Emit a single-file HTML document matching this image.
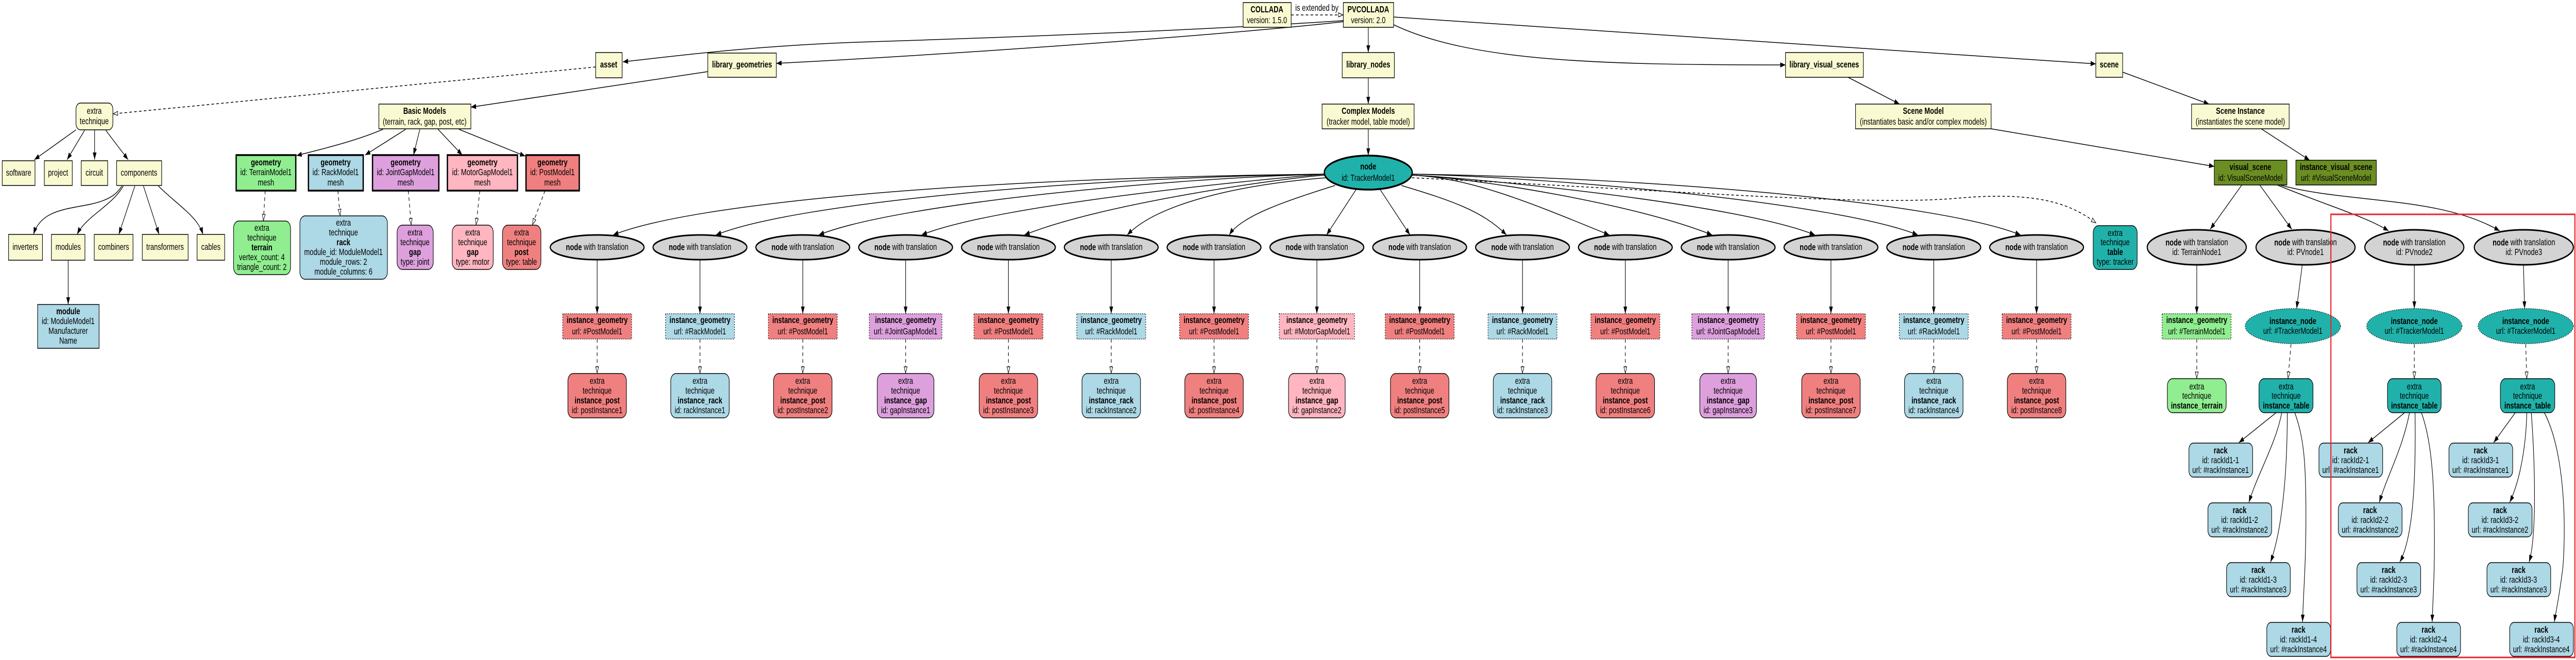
<!DOCTYPE html>
<html><head><meta charset="utf-8"><style>
html,body{margin:0;padding:0;background:#fff;width:100%;height:100%;overflow:hidden;}
svg{display:block;width:100vw;height:100vh;}
text{font-family:"Liberation Sans",sans-serif;font-size:18px;text-anchor:middle;dominant-baseline:central;fill:#000;}
.b{font-weight:bold;}
.e{fill:none;stroke:#000;stroke-width:1.5;}
.d{fill:none;stroke:#000;stroke-width:1.5;stroke-dasharray:7,6;}
.y{fill:#fafad2;stroke:#000;stroke-width:1.5;}
.gr{fill:#d3d3d3;stroke:#000;stroke-width:3;}
.dot{stroke:#000;stroke-width:1.5;stroke-dasharray:2,3;}
.rd{fill:#f08080;}.bl{fill:#add8e6;}.pu{fill:#dda0dd;}.pk{fill:#ffb6c1;}.gn{fill:#90ee90;}.tl{fill:#20b2aa;}.ol{fill:#6b8e23;}
.th{stroke:#000;stroke-width:1.5;}
.tk{stroke:#000;stroke-width:3.5;}
</style></head><body>
<svg viewBox="0 0 6915 1281" preserveAspectRatio="none" xmlns="http://www.w3.org/2000/svg">
<defs>
<marker id="a" markerUnits="userSpaceOnUse" markerWidth="14" markerHeight="10" refX="14" refY="5" orient="auto"><path d="M0,0 L14,5 L0,10 z" fill="#000"/></marker>
<marker id="o" markerUnits="userSpaceOnUse" markerWidth="14" markerHeight="10" refX="14" refY="5" orient="auto"><path d="M1,1 L13,5 L1,9 z" fill="#fff" stroke="#000" stroke-width="1.2"/></marker>
</defs>

<path class="d" d="M3466,29 L3606,29" marker-end="url(#o)"/>
<text x="3535" y="16">is extended by</text>
<path class="e" d="M3606,40 C3200,60 2600,75 2300,82 C2000,90 1800,110 1672,120" marker-end="url(#a)"/>
<path class="e" d="M3606,42 C3400,60 2700,100 2084,123" marker-end="url(#a)"/>
<path class="e" d="M3673,53 L3673,102" marker-end="url(#a)"/>
<path class="e" d="M3741,48 C3950,120 4300,126 4793,126" marker-end="url(#a)"/>
<path class="e" d="M3741,33 L5626,124" marker-end="url(#a)"/>
<path class="e" d="M3673,151 L3673,202" marker-end="url(#a)"/>
<path class="e" d="M3673,250 L3673,302" marker-end="url(#a)"/>
<path class="e" d="M1900,139 L1264,208" marker-end="url(#a)"/>
<path class="e" d="M4961,150 L5099,202" marker-end="url(#a)"/>
<path class="e" d="M5698,140 L5930,202" marker-end="url(#a)"/>
<path class="e" d="M6070,250 L6200,311" marker-end="url(#a)"/>
<path class="e" d="M5345,250 L5944,323" marker-end="url(#a)"/>
<path class="d" d="M1599,130 L303,221" marker-end="url(#o)"/>

<path class="e" d="M204,252 L92,310" marker-end="url(#a)"/>
<path class="e" d="M227,253 L180,310" marker-end="url(#a)"/>
<path class="e" d="M254,252 L254,310" marker-end="url(#a)"/>
<path class="e" d="M284,253 L344,310" marker-end="url(#a)"/>
<path class="e" d="M327,361 C280,420 120,380 90,455" marker-end="url(#a)"/>
<path class="e" d="M331,361 C300,400 230,420 207,455" marker-end="url(#a)"/>
<path class="e" d="M362,361 L319,455" marker-end="url(#a)"/>
<path class="e" d="M385,361 L427,455" marker-end="url(#a)"/>
<path class="e" d="M425,361 C480,400 530,420 545,455" marker-end="url(#a)"/>
<path class="e" d="M183,505 L183,591" marker-end="url(#a)"/>
<path class="e" d="M1028,251 C950,275 860,290 796,302" marker-end="url(#a)"/>
<path class="e" d="M1089,251 L980,301" marker-end="url(#a)"/>
<path class="e" d="M1127,251 L1110,301" marker-end="url(#a)"/>
<path class="e" d="M1176,251 L1241,301" marker-end="url(#a)"/>
<path class="e" d="M1232,251 L1410,303" marker-end="url(#a)"/>
<path class="d" d="M712,370 L707,429" marker-end="url(#o)"/>
<path class="d" d="M907,370 L913,419" marker-end="url(#o)"/>
<path class="d" d="M1096,370 L1104,437" marker-end="url(#o)"/>
<path class="d" d="M1288,370 L1278,437" marker-end="url(#o)"/>
<path class="d" d="M1463,370 L1429,437" marker-end="url(#o)"/>

<path class="e" d="M3556,338 C2603,345 1853,395 1646,456" marker-end="url(#a)"/>
<path class="e" d="M3556,338 C2879,345 2129,395 1922,456" marker-end="url(#a)"/>
<path class="e" d="M3556,338 C3155,345 2405,395 2198,456" marker-end="url(#a)"/>
<path class="e" d="M3556,338 C3431,345 2681,395 2474,456" marker-end="url(#a)"/>
<path class="e" d="M3556,340 C3450,345 2957,395 2750,456" marker-end="url(#a)"/>
<path class="e" d="M3560,345 C3300,360 3100,400 3026,456" marker-end="url(#a)"/>
<path class="e" d="M3584,360 C3450,390 3330,420 3300,456" marker-end="url(#a)"/>
<path class="e" d="M3641,367 L3561,456" marker-end="url(#a)"/>
<path class="e" d="M3704,367 L3785,456" marker-end="url(#a)"/>
<path class="e" d="M3762,360 C3900,390 3980,410 4044,456" marker-end="url(#a)"/>
<path class="e" d="M3790,340 C3950,345 4113,395 4320,456" marker-end="url(#a)"/>
<path class="e" d="M3790,340 C3950,345 4389,395 4596,456" marker-end="url(#a)"/>
<path class="e" d="M3790,340 C3950,345 4665,395 4872,456" marker-end="url(#a)"/>
<path class="e" d="M3790,338 C4191,345 4941,395 5148,456" marker-end="url(#a)"/>
<path class="e" d="M3790,338 C4467,345 5217,395 5424,456" marker-end="url(#a)"/>
<path class="d" d="M3790,345 C4500,370 5000,400 5250,385 C5450,372 5550,390 5627,433" marker-end="url(#o)"/>

<path class="e" d="M6018,359 L5933,445" marker-end="url(#a)"/>
<path class="e" d="M6066,359 L6152,445" marker-end="url(#a)"/>
<path class="e" d="M6113,359 C6250,400 6350,420 6412,448" marker-end="url(#a)"/>
<path class="e" d="M6120,359 C6300,395 6550,380 6710,448" marker-end="url(#a)"/>
<path class="e" d="M5897,514 L5897,609" marker-end="url(#a)"/>
<path class="d" d="M5897,658 L5897,735" marker-end="url(#o)"/>
<path class="e" d="M6180,515 L6165,599" marker-end="url(#a)"/>
<path class="d" d="M6150,668 L6142,735" marker-end="url(#o)"/>
<path class="e" d="M6481,514 L6481,599" marker-end="url(#a)"/>
<path class="d" d="M6481,668 L6481,735" marker-end="url(#o)"/>
<path class="e" d="M6774,515 L6777,599" marker-end="url(#a)"/>
<path class="d" d="M6780,668 L6783,735" marker-end="url(#o)"/>
<path class="e" d="M6110,801 L6010,859" marker-end="url(#a)"/>
<path class="e" d="M6125,801 C6110,860 6060,920 6037,975" marker-end="url(#a)"/>
<path class="e" d="M6140,801 C6140,900 6130,1020 6095,1091" marker-end="url(#a)"/>
<path class="e" d="M6160,801 C6185,850 6190,900 6190,1000 C6190,1100 6183,1150 6181,1207" marker-end="url(#a)"/>
<path class="e" d="M6455,801 L6357,859" marker-end="url(#a)"/>
<path class="e" d="M6468,801 C6450,870 6410,920 6387,975" marker-end="url(#a)"/>
<path class="e" d="M6483,801 C6485,920 6480,1040 6442,1091" marker-end="url(#a)"/>
<path class="e" d="M6500,801 C6530,860 6535,950 6535,1050 C6535,1130 6530,1170 6529,1207" marker-end="url(#a)"/>
<path class="e" d="M6752,801 L6694,859" marker-end="url(#a)"/>
<path class="e" d="M6783,801 C6780,880 6760,940 6737,975" marker-end="url(#a)"/>
<path class="e" d="M6795,801 C6805,900 6810,1040 6789,1091" marker-end="url(#a)"/>
<path class="e" d="M6830,801 C6880,870 6890,1000 6880,1100 C6870,1160 6860,1190 6857,1207" marker-end="url(#a)"/>

<rect class="y" x="3337" y="5" width="129" height="48"/><text class="b" x="3401" y="19">COLLADA</text><text x="3401" y="40">version: 1.5.0</text>
<rect class="y" x="3606" y="5" width="135" height="48"/><text class="b" x="3673" y="19">PVCOLLADA</text><text x="3673" y="40">version: 2.0</text>
<rect class="y" x="1599" y="102" width="71" height="49"/><text class="b" x="1634" y="126">asset</text>
<rect class="y" x="1900" y="103" width="184" height="47"/><text class="b" x="1992" y="126">library_geometries</text>
<rect class="y" x="3603" y="102" width="140" height="49"/><text class="b" x="3673" y="126">library_nodes</text>
<rect class="y" x="4793" y="102" width="209" height="48"/><text class="b" x="4897" y="126">library_visual_scenes</text>
<rect class="y" x="5626" y="103" width="72" height="47"/><text class="b" x="5662" y="126">scene</text>
<rect class="y" x="1017" y="202" width="247" height="48"/><text class="b" x="1140" y="216">Basic Models</text><text x="1140" y="237">(terrain, rack, gap, post, etc)</text>
<rect class="y" x="3549" y="202" width="247" height="48"/><text class="b" x="3673" y="216">Complex Models</text><text x="3673" y="237">(tracker model, table model)</text>
<rect class="y" x="4981" y="202" width="364" height="48"/><text class="b" x="5163" y="216">Scene Model</text><text x="5163" y="237">(instantiates basic and/or complex models)</text>
<rect class="y" x="5883" y="202" width="262" height="48"/><text class="b" x="6014" y="216">Scene Instance</text><text x="6014" y="237">(instantiates the scene model)</text>

<rect class="y" x="204" y="200" width="99" height="52" rx="12"/><text x="253" y="216">extra</text><text x="253" y="236">technique</text>
<rect class="y" x="6" y="312" width="88" height="48"/><text x="50" y="336">software</text>
<rect class="y" x="119" y="312" width="75" height="48"/><text x="156" y="336">project</text>
<rect class="y" x="218" y="312" width="71" height="48"/><text x="253" y="336">circuit</text>
<rect class="y" x="313" y="312" width="121" height="48"/><text x="373" y="336">components</text>
<rect class="y" x="23" y="455" width="91" height="50"/><text x="68" y="480">inverters</text>
<rect class="y" x="138" y="455" width="90" height="50"/><text x="183" y="480">modules</text>
<rect class="y" x="253" y="455" width="104" height="50"/><text x="305" y="480">combiners</text>
<rect class="y" x="382" y="455" width="123" height="50"/><text x="443" y="480">transformers</text>
<rect class="y" x="529" y="455" width="74" height="50"/><text x="566" y="480">cables</text>
<rect class="bl th" x="101" y="591" width="165" height="85"/><text class="b" x="183" y="605">module</text><text x="183" y="624">id: ModuleModel1</text><text x="183" y="643">Manufacturer</text><text x="183" y="662">Name</text>

<rect class="gn tk" x="634" y="301" width="160" height="69"/><text class="b" x="714" y="316">geometry</text><text x="714" y="335">id: TerrainModel1</text><text x="714" y="355">mesh</text>
<rect class="bl tk" x="828" y="301" width="147" height="69"/><text class="b" x="901" y="316">geometry</text><text x="901" y="335">id: RackModel1</text><text x="901" y="355">mesh</text>
<rect class="pu tk" x="1000" y="301" width="178" height="69"/><text class="b" x="1089" y="316">geometry</text><text x="1089" y="335">id: JointGapModel1</text><text x="1089" y="355">mesh</text>
<rect class="pk tk" x="1201" y="301" width="188" height="69"/><text class="b" x="1295" y="316">geometry</text><text x="1295" y="335">id: MotorGapModel1</text><text x="1295" y="355">mesh</text>
<rect class="rd tk" x="1412" y="301" width="143" height="69"/><text class="b" x="1483" y="316">geometry</text><text x="1483" y="335">id: PostModel1</text><text x="1483" y="355">mesh</text>

<rect class="gn th" x="627" y="429" width="153" height="104" rx="14"/><text x="703" y="443">extra</text><text x="703" y="462">technique</text><text class="b" x="703" y="481">terrain</text><text x="703" y="500">vertex_count: 4</text><text x="703" y="519">triangle_count: 2</text>
<rect class="bl th" x="805" y="419" width="235" height="123" rx="14"/><text x="922" y="433">extra</text><text x="922" y="452">technique</text><text class="b" x="922" y="471">rack</text><text x="922" y="490">module_id: ModuleModel1</text><text x="922" y="509">module_rows: 2</text><text x="922" y="528">module_columns: 6</text>
<rect class="pu th" x="1066" y="437" width="97" height="86" rx="14"/><text x="1114" y="452">extra</text><text x="1114" y="471">technique</text><text class="b" x="1114" y="490">gap</text><text x="1114" y="509">type: joint</text>
<rect class="pk th" x="1214" y="437" width="110" height="86" rx="14"/><text x="1269" y="452">extra</text><text x="1269" y="471">technique</text><text class="b" x="1269" y="490">gap</text><text x="1269" y="509">type: motor</text>
<rect class="rd th" x="1349" y="437" width="103" height="86" rx="14"/><text x="1400" y="452">extra</text><text x="1400" y="471">technique</text><text class="b" x="1400" y="490">post</text><text x="1400" y="509">type: table</text>

<ellipse class="tl tk" cx="3673" cy="335" rx="118" ry="33"/><text class="b" x="3673" y="324">node</text><text x="3673" y="346">id: TrackerModel1</text>

<g transform="translate(1603,0)"><ellipse class="gr" cx="0" cy="480" rx="126" ry="24"/><text x="0" y="480"><tspan class="b">node</tspan> with translation</text><path class="e" d="M0,504 L0,609" marker-end="url(#a)"/><rect class="rd dot" x="-92.5" y="609" width="185" height="49"/><text class="b" x="0" y="622">instance_geometry</text><text x="0" y="644">url: #PostModel1</text><path class="d" d="M0,658 L0,725" marker-end="url(#o)"/><rect class="rd th" x="-78.5" y="725" width="157" height="86" rx="14"/><text x="0" y="740">extra</text><text x="0" y="759">technique</text><text class="b" x="0" y="778">instance_post</text><text x="0" y="797">id: postInstance1</text></g>
<g transform="translate(1879,0)"><ellipse class="gr" cx="0" cy="480" rx="126" ry="24"/><text x="0" y="480"><tspan class="b">node</tspan> with translation</text><path class="e" d="M0,504 L0,609" marker-end="url(#a)"/><rect class="bl dot" x="-92.5" y="609" width="185" height="49"/><text class="b" x="0" y="622">instance_geometry</text><text x="0" y="644">url: #RackModel1</text><path class="d" d="M0,658 L0,725" marker-end="url(#o)"/><rect class="bl th" x="-78.5" y="725" width="157" height="86" rx="14"/><text x="0" y="740">extra</text><text x="0" y="759">technique</text><text class="b" x="0" y="778">instance_rack</text><text x="0" y="797">id: rackInstance1</text></g>
<g transform="translate(2155,0)"><ellipse class="gr" cx="0" cy="480" rx="126" ry="24"/><text x="0" y="480"><tspan class="b">node</tspan> with translation</text><path class="e" d="M0,504 L0,609" marker-end="url(#a)"/><rect class="rd dot" x="-92.5" y="609" width="185" height="49"/><text class="b" x="0" y="622">instance_geometry</text><text x="0" y="644">url: #PostModel1</text><path class="d" d="M0,658 L0,725" marker-end="url(#o)"/><rect class="rd th" x="-78.5" y="725" width="157" height="86" rx="14"/><text x="0" y="740">extra</text><text x="0" y="759">technique</text><text class="b" x="0" y="778">instance_post</text><text x="0" y="797">id: postInstance2</text></g>
<g transform="translate(2431,0)"><ellipse class="gr" cx="0" cy="480" rx="126" ry="24"/><text x="0" y="480"><tspan class="b">node</tspan> with translation</text><path class="e" d="M0,504 L0,609" marker-end="url(#a)"/><rect class="pu dot" x="-97.5" y="609" width="195" height="49"/><text class="b" x="0" y="622">instance_geometry</text><text x="0" y="644">url: #JointGapModel1</text><path class="d" d="M0,658 L0,725" marker-end="url(#o)"/><rect class="pu th" x="-76" y="725" width="152" height="86" rx="14"/><text x="0" y="740">extra</text><text x="0" y="759">technique</text><text class="b" x="0" y="778">instance_gap</text><text x="0" y="797">id: gapInstance1</text></g>
<g transform="translate(2707,0)"><ellipse class="gr" cx="0" cy="480" rx="126" ry="24"/><text x="0" y="480"><tspan class="b">node</tspan> with translation</text><path class="e" d="M0,504 L0,609" marker-end="url(#a)"/><rect class="rd dot" x="-92.5" y="609" width="185" height="49"/><text class="b" x="0" y="622">instance_geometry</text><text x="0" y="644">url: #PostModel1</text><path class="d" d="M0,658 L0,725" marker-end="url(#o)"/><rect class="rd th" x="-78.5" y="725" width="157" height="86" rx="14"/><text x="0" y="740">extra</text><text x="0" y="759">technique</text><text class="b" x="0" y="778">instance_post</text><text x="0" y="797">id: postInstance3</text></g>
<g transform="translate(2983,0)"><ellipse class="gr" cx="0" cy="480" rx="126" ry="24"/><text x="0" y="480"><tspan class="b">node</tspan> with translation</text><path class="e" d="M0,504 L0,609" marker-end="url(#a)"/><rect class="bl dot" x="-92.5" y="609" width="185" height="49"/><text class="b" x="0" y="622">instance_geometry</text><text x="0" y="644">url: #RackModel1</text><path class="d" d="M0,658 L0,725" marker-end="url(#o)"/><rect class="bl th" x="-78.5" y="725" width="157" height="86" rx="14"/><text x="0" y="740">extra</text><text x="0" y="759">technique</text><text class="b" x="0" y="778">instance_rack</text><text x="0" y="797">id: rackInstance2</text></g>
<g transform="translate(3259,0)"><ellipse class="gr" cx="0" cy="480" rx="126" ry="24"/><text x="0" y="480"><tspan class="b">node</tspan> with translation</text><path class="e" d="M0,504 L0,609" marker-end="url(#a)"/><rect class="rd dot" x="-92.5" y="609" width="185" height="49"/><text class="b" x="0" y="622">instance_geometry</text><text x="0" y="644">url: #PostModel1</text><path class="d" d="M0,658 L0,725" marker-end="url(#o)"/><rect class="rd th" x="-78.5" y="725" width="157" height="86" rx="14"/><text x="0" y="740">extra</text><text x="0" y="759">technique</text><text class="b" x="0" y="778">instance_post</text><text x="0" y="797">id: postInstance4</text></g>
<g transform="translate(3535,0)"><ellipse class="gr" cx="0" cy="480" rx="126" ry="24"/><text x="0" y="480"><tspan class="b">node</tspan> with translation</text><path class="e" d="M0,504 L0,609" marker-end="url(#a)"/><rect class="pk dot" x="-101" y="609" width="202" height="49"/><text class="b" x="0" y="622">instance_geometry</text><text x="0" y="644">url: #MotorGapModel1</text><path class="d" d="M0,658 L0,725" marker-end="url(#o)"/><rect class="pk th" x="-76" y="725" width="152" height="86" rx="14"/><text x="0" y="740">extra</text><text x="0" y="759">technique</text><text class="b" x="0" y="778">instance_gap</text><text x="0" y="797">id: gapInstance2</text></g>
<g transform="translate(3811,0)"><ellipse class="gr" cx="0" cy="480" rx="126" ry="24"/><text x="0" y="480"><tspan class="b">node</tspan> with translation</text><path class="e" d="M0,504 L0,609" marker-end="url(#a)"/><rect class="rd dot" x="-92.5" y="609" width="185" height="49"/><text class="b" x="0" y="622">instance_geometry</text><text x="0" y="644">url: #PostModel1</text><path class="d" d="M0,658 L0,725" marker-end="url(#o)"/><rect class="rd th" x="-78.5" y="725" width="157" height="86" rx="14"/><text x="0" y="740">extra</text><text x="0" y="759">technique</text><text class="b" x="0" y="778">instance_post</text><text x="0" y="797">id: postInstance5</text></g>
<g transform="translate(4087,0)"><ellipse class="gr" cx="0" cy="480" rx="126" ry="24"/><text x="0" y="480"><tspan class="b">node</tspan> with translation</text><path class="e" d="M0,504 L0,609" marker-end="url(#a)"/><rect class="bl dot" x="-92.5" y="609" width="185" height="49"/><text class="b" x="0" y="622">instance_geometry</text><text x="0" y="644">url: #RackModel1</text><path class="d" d="M0,658 L0,725" marker-end="url(#o)"/><rect class="bl th" x="-78.5" y="725" width="157" height="86" rx="14"/><text x="0" y="740">extra</text><text x="0" y="759">technique</text><text class="b" x="0" y="778">instance_rack</text><text x="0" y="797">id: rackInstance3</text></g>
<g transform="translate(4363,0)"><ellipse class="gr" cx="0" cy="480" rx="126" ry="24"/><text x="0" y="480"><tspan class="b">node</tspan> with translation</text><path class="e" d="M0,504 L0,609" marker-end="url(#a)"/><rect class="rd dot" x="-92.5" y="609" width="185" height="49"/><text class="b" x="0" y="622">instance_geometry</text><text x="0" y="644">url: #PostModel1</text><path class="d" d="M0,658 L0,725" marker-end="url(#o)"/><rect class="rd th" x="-78.5" y="725" width="157" height="86" rx="14"/><text x="0" y="740">extra</text><text x="0" y="759">technique</text><text class="b" x="0" y="778">instance_post</text><text x="0" y="797">id: postInstance6</text></g>
<g transform="translate(4639,0)"><ellipse class="gr" cx="0" cy="480" rx="126" ry="24"/><text x="0" y="480"><tspan class="b">node</tspan> with translation</text><path class="e" d="M0,504 L0,609" marker-end="url(#a)"/><rect class="pu dot" x="-97.5" y="609" width="195" height="49"/><text class="b" x="0" y="622">instance_geometry</text><text x="0" y="644">url: #JointGapModel1</text><path class="d" d="M0,658 L0,725" marker-end="url(#o)"/><rect class="pu th" x="-76" y="725" width="152" height="86" rx="14"/><text x="0" y="740">extra</text><text x="0" y="759">technique</text><text class="b" x="0" y="778">instance_gap</text><text x="0" y="797">id: gapInstance3</text></g>
<g transform="translate(4915,0)"><ellipse class="gr" cx="0" cy="480" rx="126" ry="24"/><text x="0" y="480"><tspan class="b">node</tspan> with translation</text><path class="e" d="M0,504 L0,609" marker-end="url(#a)"/><rect class="rd dot" x="-92.5" y="609" width="185" height="49"/><text class="b" x="0" y="622">instance_geometry</text><text x="0" y="644">url: #PostModel1</text><path class="d" d="M0,658 L0,725" marker-end="url(#o)"/><rect class="rd th" x="-78.5" y="725" width="157" height="86" rx="14"/><text x="0" y="740">extra</text><text x="0" y="759">technique</text><text class="b" x="0" y="778">instance_post</text><text x="0" y="797">id: postInstance7</text></g>
<g transform="translate(5191,0)"><ellipse class="gr" cx="0" cy="480" rx="126" ry="24"/><text x="0" y="480"><tspan class="b">node</tspan> with translation</text><path class="e" d="M0,504 L0,609" marker-end="url(#a)"/><rect class="bl dot" x="-92.5" y="609" width="185" height="49"/><text class="b" x="0" y="622">instance_geometry</text><text x="0" y="644">url: #RackModel1</text><path class="d" d="M0,658 L0,725" marker-end="url(#o)"/><rect class="bl th" x="-78.5" y="725" width="157" height="86" rx="14"/><text x="0" y="740">extra</text><text x="0" y="759">technique</text><text class="b" x="0" y="778">instance_rack</text><text x="0" y="797">id: rackInstance4</text></g>
<g transform="translate(5467,0)"><ellipse class="gr" cx="0" cy="480" rx="126" ry="24"/><text x="0" y="480"><tspan class="b">node</tspan> with translation</text><path class="e" d="M0,504 L0,609" marker-end="url(#a)"/><rect class="rd dot" x="-92.5" y="609" width="185" height="49"/><text class="b" x="0" y="622">instance_geometry</text><text x="0" y="644">url: #PostModel1</text><path class="d" d="M0,658 L0,725" marker-end="url(#o)"/><rect class="rd th" x="-78.5" y="725" width="157" height="86" rx="14"/><text x="0" y="740">extra</text><text x="0" y="759">technique</text><text class="b" x="0" y="778">instance_post</text><text x="0" y="797">id: postInstance8</text></g>

<rect class="tl th" x="5619" y="438" width="118" height="85" rx="14"/><text x="5678" y="453">extra</text><text x="5678" y="471">technique</text><text class="b" x="5678" y="490">table</text><text x="5678" y="509">type: tracker</text>

<rect class="ol th" x="5944" y="311" width="195" height="48"/><text class="b" x="6041" y="325">visual_scene</text><text x="6041" y="346">id: VisualSceneModel</text>
<rect class="ol th" x="6163" y="311" width="216" height="48"/><text class="b" x="6271" y="325">instance_visual_scene</text><text x="6271" y="346">url: #VisualSceneModel</text>

<ellipse class="gr" cx="5897" cy="480" rx="133" ry="34"/><text x="5897" y="471"><tspan class="b">node</tspan> with translation</text><text x="5897" y="490">id: TerrainNode1</text>
<ellipse class="gr" cx="6189" cy="480" rx="133" ry="34"/><text x="6189" y="471"><tspan class="b">node</tspan> with translation</text><text x="6189" y="490">id: PVnode1</text>
<ellipse class="gr" cx="6481" cy="480" rx="133" ry="34"/><text x="6481" y="471"><tspan class="b">node</tspan> with translation</text><text x="6481" y="490">id: PVnode2</text>
<ellipse class="gr" cx="6775" cy="480" rx="133" ry="34"/><text x="6775" y="471"><tspan class="b">node</tspan> with translation</text><text x="6775" y="490">id: PVnode3</text>

<rect class="gn dot" x="5804" y="609" width="185" height="49"/><text class="b" x="5897" y="622">instance_geometry</text><text x="5897" y="644">url: #TerrainModel1</text>
<ellipse class="tl dot" cx="6155" cy="633" rx="128" ry="34"/><text class="b" x="6155" y="624">instance_node</text><text x="6155" y="643">url: #TrackerModel1</text>
<ellipse class="tl dot" cx="6481" cy="633" rx="128" ry="34"/><text class="b" x="6481" y="624">instance_node</text><text x="6481" y="643">url: #TrackerModel1</text>
<ellipse class="tl dot" cx="6780" cy="633" rx="128" ry="34"/><text class="b" x="6780" y="624">instance_node</text><text x="6780" y="643">url: #TrackerModel1</text>

<rect class="gn th" x="5818" y="735" width="158" height="66" rx="14"/><text x="5897" y="751">extra</text><text x="5897" y="769">technique</text><text class="b" x="5897" y="788">instance_terrain</text>
<rect class="tl th" x="6064" y="735" width="145" height="66" rx="14"/><text x="6137" y="751">extra</text><text x="6137" y="769">technique</text><text class="b" x="6137" y="788">instance_table</text>
<rect class="tl th" x="6409" y="735" width="144" height="66" rx="14"/><text x="6481" y="751">extra</text><text x="6481" y="769">technique</text><text class="b" x="6481" y="788">instance_table</text>
<rect class="tl th" x="6712" y="735" width="146" height="66" rx="14"/><text x="6785" y="751">extra</text><text x="6785" y="769">technique</text><text class="b" x="6785" y="788">instance_table</text>

<g transform="translate(5876,860)"><rect class="bl th" x="0" y="0" width="171" height="66" rx="12"/><text class="b" x="85" y="15">rack</text><text x="85" y="34">id: rackId1-1</text><text x="85" y="53">url: #rackInstance1</text></g>
<g transform="translate(5927,976)"><rect class="bl th" x="0" y="0" width="171" height="66" rx="12"/><text class="b" x="85" y="15">rack</text><text x="85" y="34">id: rackId1-2</text><text x="85" y="53">url: #rackInstance2</text></g>
<g transform="translate(5977,1092)"><rect class="bl th" x="0" y="0" width="171" height="66" rx="12"/><text class="b" x="85" y="15">rack</text><text x="85" y="34">id: rackId1-3</text><text x="85" y="53">url: #rackInstance3</text></g>
<g transform="translate(6085,1208)"><rect class="bl th" x="0" y="0" width="171" height="66" rx="12"/><text class="b" x="85" y="15">rack</text><text x="85" y="34">id: rackId1-4</text><text x="85" y="53">url: #rackInstance4</text></g>
<g transform="translate(6225,860)"><rect class="bl th" x="0" y="0" width="171" height="66" rx="12"/><text class="b" x="85" y="15">rack</text><text x="85" y="34">id: rackId2-1</text><text x="85" y="53">url: #rackInstance1</text></g>
<g transform="translate(6277,976)"><rect class="bl th" x="0" y="0" width="171" height="66" rx="12"/><text class="b" x="85" y="15">rack</text><text x="85" y="34">id: rackId2-2</text><text x="85" y="53">url: #rackInstance2</text></g>
<g transform="translate(6327,1092)"><rect class="bl th" x="0" y="0" width="171" height="66" rx="12"/><text class="b" x="85" y="15">rack</text><text x="85" y="34">id: rackId2-3</text><text x="85" y="53">url: #rackInstance3</text></g>
<g transform="translate(6434,1208)"><rect class="bl th" x="0" y="0" width="171" height="66" rx="12"/><text class="b" x="85" y="15">rack</text><text x="85" y="34">id: rackId2-4</text><text x="85" y="53">url: #rackInstance4</text></g>
<g transform="translate(6574,860)"><rect class="bl th" x="0" y="0" width="171" height="66" rx="12"/><text class="b" x="85" y="15">rack</text><text x="85" y="34">id: rackId3-1</text><text x="85" y="53">url: #rackInstance1</text></g>
<g transform="translate(6626,976)"><rect class="bl th" x="0" y="0" width="171" height="66" rx="12"/><text class="b" x="85" y="15">rack</text><text x="85" y="34">id: rackId3-2</text><text x="85" y="53">url: #rackInstance2</text></g>
<g transform="translate(6676,1092)"><rect class="bl th" x="0" y="0" width="171" height="66" rx="12"/><text class="b" x="85" y="15">rack</text><text x="85" y="34">id: rackId3-3</text><text x="85" y="53">url: #rackInstance3</text></g>
<g transform="translate(6737,1208)"><rect class="bl th" x="0" y="0" width="171" height="66" rx="12"/><text class="b" x="85" y="15">rack</text><text x="85" y="34">id: rackId3-4</text><text x="85" y="53">url: #rackInstance4</text></g>

<rect x="6257" y="416" width="655" height="860" fill="none" stroke="#e8262e" stroke-width="3"/>
</svg>
</body></html>
